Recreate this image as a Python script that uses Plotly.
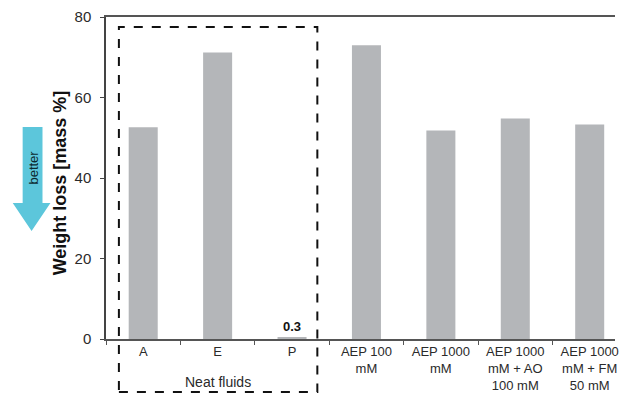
import plotly.graph_objects as go

categories = ["A", "E", "P", "AEP 100<br>mM", "AEP 1000<br>mM",
              "AEP 1000<br>mM + AO<br>100 mM", "AEP 1000<br>mM + FM<br>50 mM"]
weight_loss = [52.6, 71.2, 0.3, 73.0, 51.8, 54.8, 53.3]
bar_labels = ["", "", "0.3", "", "", "", ""]
y_ticks = [0, 20, 40, 60, 80]

W, H = 619, 395
L, R, T, B = 106, 0, 17, 56
PW, PH = W - L - R, H - T - B

def px(xp):
    return (xp - L) / PW

def py(yp):
    return (H - B - yp) / PH

FONT = "Arial, Liberation Sans, sans-serif"
TXT = "#2a2a2a"

fig = go.Figure()
fig.add_trace(go.Bar(
    x=categories, y=weight_loss, width=0.39,
    marker=dict(color="#b4b6b9", line=dict(width=0)),
    text=bar_labels, textposition="outside", cliponaxis=False,
    textfont=dict(family=FONT, size=13, color="#111111"),
    texttemplate="<b>%{text}</b>",
))

# arrow "better"
pts = [(22, 127), (42, 127), (42, 203), (50, 203), (31, 231), (12, 203), (22, 203)]
path = "M " + " L ".join(f"{px(a):.5f},{py(b):.5f}" for a, b in pts) + " Z"
shapes = [
    dict(type="path", xref="paper", yref="paper", path=path,
         fillcolor="#5cc6db", line=dict(width=0), layer="above"),
    # dashed box around neat fluids
    dict(type="rect", xref="paper", yref="paper",
         x0=px(119), x1=px(319), y0=py(392), y1=py(27),
         line=dict(color="#111111", width=2, dash="dash"), layer="above"),
]

annotations = [
    dict(text="better", xref="paper", yref="paper", x=px(32), y=py(168),
         xanchor="center", yanchor="middle",
         textangle=-90, showarrow=False, font=dict(family=FONT, size=13, color="#0c2a30")),
    dict(text="<b>Weight loss [mass %]</b>", xref="paper", yref="paper",
         x=px(60), y=py(183), xanchor="center", yanchor="middle",
         textangle=-90, showarrow=False,
         font=dict(family=FONT, size=18, color="#111111")),
    dict(text="Neat fluids", xref="x", yref="paper", x=1, y=py(382),
         xanchor="center", yanchor="middle",
         showarrow=False, font=dict(family=FONT, size=14, color=TXT)),
]

fig.update_layout(
    width=W, height=H, margin=dict(l=L, r=R, t=T, b=B, pad=0),
    paper_bgcolor="white", plot_bgcolor="white", showlegend=False,
    bargap=0.6, shapes=shapes, annotations=annotations,
    font=dict(family=FONT, size=13, color=TXT),
    xaxis=dict(range=[-0.5, 6.34], showline=True, linecolor="#555555", linewidth=1.5,
               mirror=True, ticks="outside", tickson="boundaries", ticklen=4,
               tickcolor="#555555", showgrid=False, tickfont=dict(size=13, color=TXT),
               fixedrange=True),
    yaxis=dict(range=[0, 80], tickvals=y_ticks, showline=True, linecolor="#444444",
               linewidth=1.5, ticks="outside", ticklen=4, tickcolor="#444444",
               ticklabelstandoff=6,
               showgrid=False, zeroline=False, tickfont=dict(size=15, color=TXT),
               fixedrange=True),
)

fig.write_html("out.html")
